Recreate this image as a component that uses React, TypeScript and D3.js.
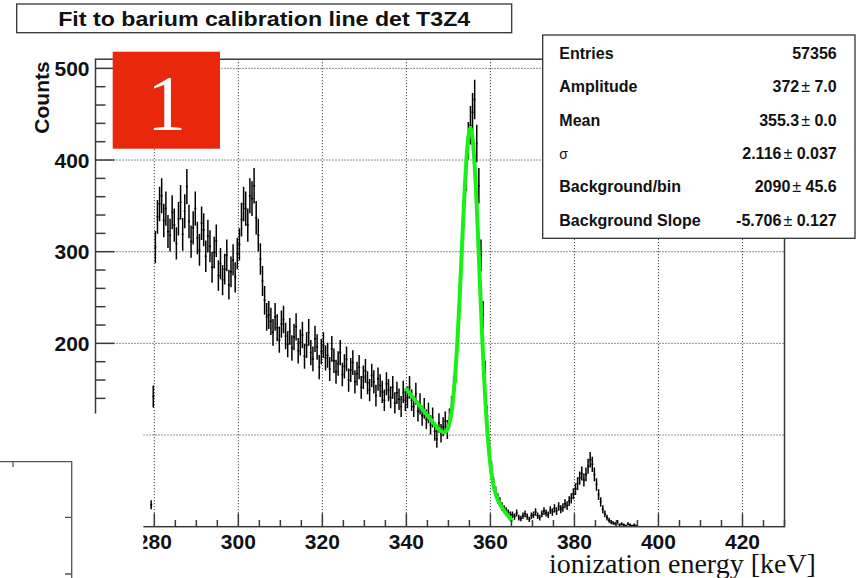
import React from "react";
import * as d3 from "d3";

// ---------- data ----------
const chartTitle = "Fit to barium calibration line det T3Z4";
const yTitle = "Counts";
const xTitle = "ionization energy [keV]";
const badgeText = "1";

const xTickValues = [280, 300, 320, 340, 360, 380, 400, 420];
const yTickValues = [100, 200, 300, 400, 500];

// histogram: bins of 0.5 keV starting at 279 keV
const binLow = 279;
const binWidth = 0.5;
const countsLowEnergy = [
  24, 142,
  305, 338, 352, 361, 334, 347, 322, 318, 343, 329,
  309, 336, 354, 319, 344, 371, 333, 311, 326, 347,
  315, 302, 331, 324, 295, 317, 306, 283, 299, 312,
  274, 287, 269, 281, 296, 264, 278, 291, 272, 298,
];
const countsShoulder = [
  308, 335, 352, 347, 329, 361, 358, 372, 337, 318,
  292, 268, 247, 229,
  231, 224, 212, 229, 217, 204, 221, 226, 208, 199,
  213, 195, 207, 218, 192, 201, 209, 186, 198, 212,
  190, 183, 205, 196, 174, 191,
];
const countsSlope = [
  198, 184, 187, 172, 194, 181, 169, 178, 190, 166,
  175, 183, 160, 171, 179, 158, 167, 174, 152, 163,
  170, 157, 149, 165, 158, 143, 161, 154, 147, 138,
  156, 149, 141, 152, 135, 146, 139, 131, 147, 138,
];
const countsPeak = [
  141, 152, 138, 131, 145, 126, 134, 121, 129, 117,
  124, 111, 119, 104, 96, 113, 102, 109, 115, 106,
  118, 131, 152, 171, 208, 249, 301, 348, 386, 421,
  438, 452, 466, 418, 372, 296, 231, 168, 121, 86,
  64, 47, 38, 31, 27, 22, 19, 17, 15, 13,
];
const countsTail = [
  13, 11, 15, 10, 9, 12, 14, 11, 8, 12,
  13, 16, 12, 10, 14, 17, 15, 13, 18, 16,
  20, 17, 22, 19, 21, 25, 23, 28,
  31, 36, 41, 47, 53, 58, 51, 57, 66, 73,
  68, 57, 46, 35, 27, 19, 14, 10, 7, 5,
  4, 3, 5, 2, 3, 2, 1, 3, 2, 1, 2, 1,
];
const counts = [
  ...countsLowEnergy,
  ...countsShoulder,
  ...countsSlope,
  ...countsPeak,
  ...countsTail,
];

// fit (gaussian + linear background) parameters from the stats box
const fitAmplitude = 372;
const fitMean = 355.3;
const fitSigma = 2.116;
const fitBackground = 2090;
const fitSlope = -5.706;
const fitRange = [340, 365];

const statLabels = ["Entries", "Amplitude", "Mean", "σ", "Background/bin", "Background Slope"];
const statValues = ["57356", "372", "355.3", "2.116", "2090", "-5.706"];
const statErrors = ["", "7.0", "0.0", "0.037", "45.6", "0.127"];

// ---------- layout ----------
const W = 858;
const H = 578;
const plotLeft = 95.5;
const plotRight = 784.5;
const plotTop = 59.2;
const plotBottom = 526.7;

const sans = "'Liberation Sans', Arial, Helvetica, sans-serif";
const serif = "'Liberation Serif', 'Times New Roman', serif";

export default function App() {
  const x = d3.scaleLinear().domain([266, 430]).range([plotLeft, plotRight]);
  const y = d3.scaleLinear().domain([0, 510]).range([plotBottom, plotTop]);

  const xMinor = d3.range(270, 431, 5).filter((v) => v % 20 !== 0);
  const yMinor = d3.range(20, 510, 20).filter((v) => v % 100 !== 0);

  const barPath = counts
    .map((c, i) => {
      if (c <= 0) return "";
      const lo = binLow + i * binWidth;
      const hi = lo + binWidth;
      const xc = x((lo + hi) / 2);
      const e = Math.sqrt(c);
      return `M${xc},${y(c - e)}V${y(c + e)}M${x(lo)},${y(c)}H${x(hi)}`;
    })
    .join("");

  const fitFn = (v: number) =>
    fitBackground +
    fitSlope * v +
    fitAmplitude * Math.exp(-((v - fitMean) ** 2) / (2 * fitSigma * fitSigma));
  const fitXs = d3.range(fitRange[0], fitRange[1] + 0.001, 0.25);
  const fitLine = d3
    .line<number>()
    .x((v) => x(v))
    .y((v) => y(fitFn(v)))(fitXs) as string;

  const axisColor = "#3a3a3a";

  return (
    <svg
      width={W}
      height={H}
      viewBox={`0 0 ${W} ${H}`}
      style={{ position: "absolute", left: 0, top: 0, background: "#fff" }}
    >
      <rect x={0} y={0} width={W} height={H} fill="#fff" />

      {/* grid */}
      <g stroke="#222" strokeWidth={1} strokeDasharray="1 2">
        {yTickValues.map((v) => (
          <line key={"gy" + v} x1={plotLeft} x2={plotRight} y1={y(v)} y2={y(v)} />
        ))}
        {xTickValues.map((v) => (
          <line key={"gx" + v} x1={x(v)} x2={x(v)} y1={plotTop} y2={plotBottom} />
        ))}
      </g>

      {/* histogram error bars */}
      <path d={barPath} stroke="#000" strokeWidth={1.5} fill="none" />

      {/* fit */}
      <path d={fitLine} stroke="#18f018" strokeWidth={4} fill="none" strokeLinejoin="round" strokeLinecap="round" />

      {/* frame and axes */}
      <g stroke={axisColor} strokeWidth={1.5} fill="none">
        <rect x={plotLeft} y={plotTop} width={plotRight - plotLeft} height={plotBottom - plotTop} />
        {xTickValues.map((v) => (
          <line key={"tx" + v} x1={x(v)} x2={x(v)} y1={plotBottom} y2={plotBottom - 13.3} />
        ))}
        {xMinor.map((v) => (
          <line key={"mx" + v} x1={x(v)} x2={x(v)} y1={plotBottom} y2={plotBottom - 6.7} />
        ))}
        {yTickValues.map((v) => (
          <line key={"ty" + v} x1={plotLeft} x2={plotLeft + 19} y1={y(v)} y2={y(v)} />
        ))}
        {yMinor.map((v) => (
          <line key={"my" + v} x1={plotLeft} x2={plotLeft + 10} y1={y(v)} y2={y(v)} />
        ))}
      </g>

      {/* tick labels */}
      <g fontFamily={sans} fontWeight="bold" fontSize={21} fill="#111">
        {xTickValues.map((v) => (
          <text key={"lx" + v} x={x(v)} y={549} textAnchor="middle">
            {v}
          </text>
        ))}
        {yTickValues.map((v) => (
          <text key={"ly" + v} x={89.5} y={y(v) + 7.5} textAnchor="end">
            {v}
          </text>
        ))}
      </g>

      {/* y title */}
      <text
        transform="translate(49,97.5) rotate(-90)"
        textAnchor="middle"
        fontFamily={sans}
        fontWeight="bold"
        fontSize={21}
        fill="#111"
      >
        {yTitle}
      </text>

      {/* white patch covering lower-left corner */}
      <rect x={0} y={413.5} width={143.3} height={H - 413.5} fill="#fff" />

      {/* fragment of another frame, bottom-left */}
      <path
        d="M0,461.7H71.7V578M13,461.7V467M65,517.3H71.7M65,574H71.7"
        stroke="#555"
        strokeWidth={1.3}
        fill="none"
      />

      {/* red badge */}
      <rect x={112.7} y={51.7} width={107.3} height={97} fill="#e8270b" />
      <text x={166.5} y={129.3} textAnchor="middle" fontFamily={serif} fontSize={78} fill="#fff">
        {badgeText}
      </text>

      {/* title box */}
      <rect x={16.7} y={4} width={495} height={28.7} fill="#fff" stroke="#333" strokeWidth={1.3} />
      <text
        x={264.2}
        y={26.3}
        textAnchor="middle"
        fontFamily={sans}
        fontWeight="bold"
        fontSize={21}
        fill="#111"
        textLength={412}
        lengthAdjust="spacingAndGlyphs"
      >
        {chartTitle}
      </text>

      {/* stats box */}
      <rect x={542.7} y={35} width={312.3} height={203.3} fill="#fff" stroke="#333" strokeWidth={1.3} />
      <g fontFamily={sans} fontWeight="bold" fontSize={16} fill="#111">
        {statLabels.map((lab, i) => (
          <text
            key={"sl" + i}
            x={559.3}
            y={58.8 + 33.4 * i}
            fontWeight={lab === "σ" ? "normal" : "bold"}
            fontSize={lab === "σ" ? 14 : 16}
          >
            {lab}
          </text>
        ))}
        {statValues.map((val, i) => (
          <text key={"sv" + i} x={836.7} y={58.8 + 33.4 * i} textAnchor="end">
            {statErrors[i] === "" ? (
              val
            ) : (
              <>
                {val}
                <tspan dx={2} fontWeight="normal">{"\u00B1"}</tspan>
                {" " + statErrors[i]}
              </>
            )}
          </text>
        ))}
      </g>

      {/* x title */}
      <text x={549} y={573} fontFamily={serif} fontSize={28} fill="#111">
        {xTitle}
      </text>
    </svg>
  );
}
